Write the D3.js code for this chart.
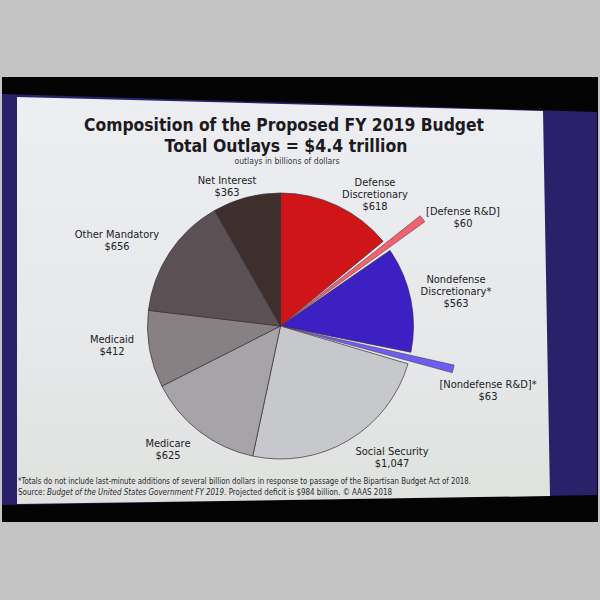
<!DOCTYPE html>
<html><head><meta charset="utf-8">
<script src="https://cdn.jsdelivr.net/npm/d3@7"></script>
<style>html,body{margin:0;padding:0;background:#c4c4c4;}svg{display:block;}</style>
</head><body>
<svg id="chart" width="600" height="600"></svg>
<script>
// ---- data ----
const categories = ["Defense Discretionary", "[Defense R&D]", "Nondefense Discretionary*", "[Nondefense R&D]*",
  "Social Security", "Medicare", "Medicaid", "Other Mandatory", "Net Interest"];
const labelLines = [["Defense", "Discretionary"], ["[Defense R&D]"], ["Nondefense", "Discretionary*"], ["[Nondefense R&D]*"],
  ["Social Security"], ["Medicare"], ["Medicaid"], ["Other Mandatory"], ["Net Interest"]];
const values = [618, 60, 563, 63, 1047, 625, 412, 656, 363];
const valueLabels = ["$618", "$60", "$563", "$63", "$1,047", "$625", "$412", "$656", "$363"];
const isRnD = [false, true, false, true, false, false, false, false, false];
const titleLines = ["Composition of the Proposed FY 2019 Budget", "Total Outlays = $4.4 trillion"];
const subtitle = "outlays in billions of dollars";
const footnote1 = "*Totals do not include last-minute additions of several billion  dollars in response to passage of the Bipartisan  Budget Act of 2018.";
const footnoteSourceLead = "Source: ";
const footnoteSourceItalic = "Budget of the United States Government FY 2019.";
const footnoteSourceTail = "  Projected deficit is $984 billion.  \u00A9 AAAS 2018";

// ---- style / layout ----
const colors = ["#cf1518", "#f2626c", "#3d20c4", "#6d5ef2", "#c7c8cb", "#a6a4a7", "#878183", "#5b5053", "#3e2e2c"];
const cx = 280.5, cy = 326, R = 133, Rx = 174;
// label anchors: [x centre, first baseline]
const labelPos = [[375, 186], [463, 215], [456, 283], [488, 388], [392, 455], [168, 447], [112, 343], [117, 238], [227, 184]];

const svg = d3.select("#chart");
// photo framing
svg.append("rect").attr("x", 0).attr("y", 0).attr("width", 600).attr("height", 600).attr("fill", "#c4c4c4");
svg.append("rect").attr("x", 2).attr("y", 77).attr("width", 596).attr("height", 445).attr("fill", "#040404");
svg.append("polygon").attr("points", "2,94 597,112 597,495 2,505").attr("fill", "#2b216b");
const defs = svg.append("defs");
const g0 = defs.append("linearGradient").attr("id", "slideGrad").attr("x1", 0).attr("y1", 0).attr("x2", 0).attr("y2", 1);
g0.append("stop").attr("offset", "0%").attr("stop-color", "#eceef1");
g0.append("stop").attr("offset", "60%").attr("stop-color", "#e6e8ea");
g0.append("stop").attr("offset", "100%").attr("stop-color", "#dfe2de");
svg.append("polygon").attr("points", "17,97 543,111 550,496 17,504").attr("fill", "url(#slideGrad)");

// titles
svg.append("text").attr("x", 284).attr("y", 131).attr("text-anchor", "middle")
  .attr("font-family", "DejaVu Sans").attr("font-weight", "bold").attr("font-size", 17)
  .attr("fill", "#1d1a1f").attr("textLength", 400).attr("lengthAdjust", "spacingAndGlyphs").text(titleLines[0]);
svg.append("text").attr("x", 286).attr("y", 152).attr("text-anchor", "middle")
  .attr("font-family", "DejaVu Sans").attr("font-weight", "bold").attr("font-size", 17)
  .attr("fill", "#1d1a1f").attr("textLength", 243).attr("lengthAdjust", "spacingAndGlyphs").text(titleLines[1]);
svg.append("text").attr("x", 287).attr("y", 164).attr("text-anchor", "middle")
  .attr("font-family", "DejaVu Sans Condensed, DejaVu Sans").attr("font-size", 8.5)
  .attr("fill", "#3a383c").attr("textLength", 105).attr("lengthAdjust", "spacingAndGlyphs").text(subtitle);

// pie
const pie = d3.pie().sort(null).value(d => d);
const arcs = pie(values);
const arcMain = d3.arc().innerRadius(0).outerRadius(R);
const arcExpl = d3.arc().innerRadius(0).outerRadius(Rx);
const pg = svg.append("g").attr("transform", `translate(${cx},${cy})`);

arcs.forEach((a, i) => {
  if (isRnD[i]) {
    const mid = (a.startAngle + a.endAngle) / 2;
    const half = (a.endAngle - a.startAngle) * 0.25;
    const off = 4;
    pg.append("path")
      .attr("transform", `translate(${off * Math.sin(mid)},${-off * Math.cos(mid)})`)
      .attr("d", arcExpl({startAngle: mid - half, endAngle: mid + half}))
      .attr("fill", colors[i]).attr("stroke", "#5a3a50").attr("stroke-width", 0.6);
  } else {
    pg.append("path").attr("d", arcMain(a))
      .attr("fill", colors[i]).attr("stroke", "#3a2c3c").attr("stroke-width", 0.7);
  }
});

// labels
arcs.forEach((a, i) => {
  const [lx, ly] = labelPos[i];
  const lines = labelLines[i].concat([valueLabels[i]]);
  const t = svg.append("text").attr("text-anchor", "middle")
    .attr("font-family", "DejaVu Sans Condensed, DejaVu Sans").attr("font-size", 11).attr("fill", "#222026");
  lines.forEach((ln, k) => {
    t.append("tspan").attr("x", lx).attr("y", ly + k * 11.8).text(ln);
  });
});

// footnotes
svg.append("text").attr("x", 18).attr("y", 484)
  .attr("font-family", "DejaVu Sans Condensed, DejaVu Sans").attr("font-size", 8.5).attr("fill", "#2a282e")
  .attr("textLength", 453).attr("lengthAdjust", "spacingAndGlyphs").text(footnote1);
const f2 = svg.append("text").attr("x", 18).attr("y", 495)
  .attr("font-family", "DejaVu Sans Condensed, DejaVu Sans").attr("font-size", 8.5).attr("fill", "#2a282e")
  .attr("textLength", 374).attr("lengthAdjust", "spacingAndGlyphs");
f2.append("tspan").text(footnoteSourceLead);
f2.append("tspan").attr("font-style", "italic").text(footnoteSourceItalic);
f2.append("tspan").text(footnoteSourceTail);
</script>
</body></html>
